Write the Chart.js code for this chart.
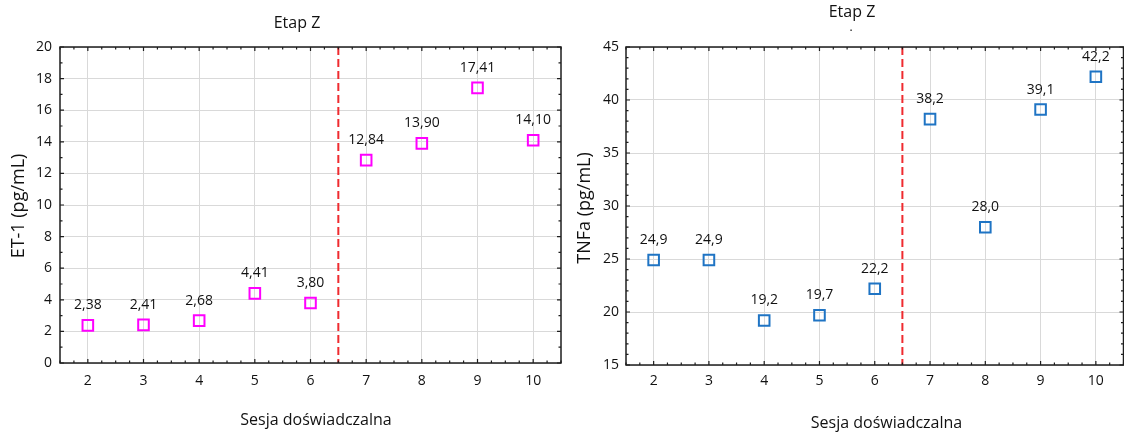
<!DOCTYPE html>
<html lang="pl">
<head>
<meta charset="utf-8">
<title>Etap Z – ET-1 i TNFa</title>
<script src="https://cdn.jsdelivr.net/npm/chart.js@4.4.1/dist/chart.umd.min.js"></script>
<style>
  html, body { margin: 0; padding: 0; background: #fff; }
  #wrap { position: relative; width: 1124px; height: 437px; overflow: hidden; }
  canvas { position: absolute; top: 0; }
  #chartEt { left: 0; }
  /* szersze plotno, nadmiar z prawej jest przyciety przez #wrap */
  #chartTnf { left: 566px; }
</style>
</head>
<body>
<div id="wrap">
  <canvas id="chartEt" width="594" height="437"></canvas>
  <canvas id="chartTnf" width="567" height="437"></canvas>
</div>
<script>
// sesje doswiadczalne i zmierzone stezenia
const sessions = [2, 3, 4, 5, 6, 7, 8, 9, 10];
const et1Values = [2.38, 2.41, 2.68, 4.41, 3.80, 12.84, 13.90, 17.41, 14.10];
const tnfValues = [24.9, 24.9, 19.2, 19.7, 22.2, 38.2, 28.0, 39.1, 42.2];

// podzialki osi
const sessionTicks = [2, 3, 4, 5, 6, 7, 8, 9, 10];
const et1Ticks = [0, 2, 4, 6, 8, 10, 12, 14, 16, 18, 20];
const tnfTicks = [15, 20, 25, 30, 35, 40, 45];

// granica etapu Z (miedzy sesja 6 a 7)
const stageBoundary = 6.5;

const FONT = '"Open Sans", "DejaVu Sans", sans-serif';
const INK = '#111111';

// ramka z kreskami do srodka, linia przerywana, etykiety wartosci i tytuly
const framePlugin = {
  id: 'frame',
  beforeDatasetsDraw(chart, args, o) {
    const { ctx, chartArea: a, scales: { x } } = chart;
    const px = x.getPixelForValue(o.boundary);
    ctx.save();
    ctx.strokeStyle = '#ef2b2f';
    ctx.lineWidth = 2;
    ctx.setLineDash([8, 4]);
    ctx.beginPath();
    ctx.moveTo(px, a.top);
    ctx.lineTo(px, a.bottom);
    ctx.stroke();
    ctx.restore();
  },
  afterDatasetsDraw(chart, args, o) {
    const { ctx, chartArea: a, scales: { x, y } } = chart;
    ctx.save();

    // ramka
    ctx.strokeStyle = '#1e1e1e';
    ctx.lineWidth = 1.5;
    ctx.strokeRect(a.left, a.top, a.right - a.left, a.bottom - a.top);

    // kreski podzialki
    ctx.lineWidth = 1.2;
    ctx.beginPath();
    const n0 = Math.ceil(x.min / o.xMinor - 1e-9), n1 = Math.floor(x.max / o.xMinor + 1e-9);
    for (let n = n0; n <= n1; n++) {
      const v = n * o.xMinor;
      const px = x.getPixelForValue(v);
      const len = Math.abs(v - Math.round(v / o.xMajor) * o.xMajor) < 1e-9 ? 4 : 2.5;
      ctx.moveTo(px, a.bottom); ctx.lineTo(px, a.bottom - len);
      ctx.moveTo(px, a.top); ctx.lineTo(px, a.top + len);
    }
    const m0 = Math.ceil(y.min / o.yMinor - 1e-9), m1 = Math.floor(y.max / o.yMinor + 1e-9);
    for (let m = m0; m <= m1; m++) {
      const v = m * o.yMinor;
      const py = y.getPixelForValue(v);
      const len = Math.abs(v - Math.round(v / o.yMajor) * o.yMajor) < 1e-9 ? 4 : 2.5;
      ctx.moveTo(a.left, py); ctx.lineTo(a.left + len, py);
      ctx.moveTo(a.right, py); ctx.lineTo(a.right - len, py);
    }
    ctx.stroke();

    // etykiety wartosci nad punktami
    ctx.fillStyle = INK;
    ctx.font = '14px ' + FONT;
    ctx.textAlign = 'center';
    ctx.textBaseline = 'middle';
    const ds = chart.data.datasets[0];
    chart.getDatasetMeta(0).data.forEach((pt, i) => {
      const label = ds.data[i].y.toFixed(o.decimals).replace('.', ',');
      ctx.fillText(label, pt.x, pt.y - 20);
    });

    // etykiety osi X
    x.ticks.forEach(t => ctx.fillText(String(t.value), x.getPixelForValue(t.value), o.xLabelY));

    // tytul wykresu
    ctx.font = '16px ' + FONT;
    ctx.fillText(o.title, o.titlePos[0], o.titlePos[1]);
    if (o.titleDot) {
      ctx.font = '12px ' + FONT;
      ctx.fillText('.', o.titleDot[0], o.titleDot[1]);
    }

    // opis osi X
    ctx.font = '16px ' + FONT;
    ctx.fillText(o.xTitle, o.xTitlePos[0], o.xTitlePos[1]);

    // opis osi Y
    ctx.font = '18px ' + FONT;
    ctx.translate(o.yTitlePos[0], o.yTitlePos[1]);
    ctx.rotate(-Math.PI / 2);
    ctx.fillText(o.yTitle, 0, 0);
    ctx.restore();
  }
};

function makeChart(id, values, yTicks, cfg) {
  const points = sessions.map((s, i) => ({ x: s, y: values[i] }));
  return new Chart(document.getElementById(id), {
    type: 'scatter',
    data: {
      datasets: [{
        data: points,
        pointStyle: 'rect',
        pointRadius: 7.5,
        pointHoverRadius: 7.5,
        pointBorderWidth: 2,
        borderColor: cfg.color,
        backgroundColor: 'rgba(0,0,0,0)',
        showLine: false
      }]
    },
    options: {
      responsive: false,
      animation: false,
      devicePixelRatio: 1,
      events: [],
      layout: { padding: cfg.padding },
      plugins: {
        legend: { display: false },
        tooltip: { enabled: false },
        frame: cfg.frame
      },
      scales: {
        x: {
          type: 'linear',
          min: 1.5,
          max: 10.5,
          afterBuildTicks: s => { s.ticks = sessionTicks.map(v => ({ value: v })); },
          afterFit: s => { s.height = cfg.xHeight; },
          grid: { color: '#d9d9d9', lineWidth: 1, drawTicks: false },
          border: { display: false },
          ticks: { display: false }
        },
        y: {
          type: 'linear',
          min: yTicks[0],
          max: yTicks[yTicks.length - 1],
          afterBuildTicks: s => { s.ticks = yTicks.map(v => ({ value: v })); },
          afterFit: s => { s.width = 60; },
          grid: { color: '#d9d9d9', lineWidth: 1, drawTicks: false },
          border: { display: false },
          ticks: { padding: cfg.yPad, color: INK, font: { family: FONT, size: 14 } }
        }
      }
    },
    plugins: [framePlugin]
  });
}

makeChart('chartEt', et1Values, et1Ticks, {
  color: '#ff00ff',
  padding: { left: 0, right: 33, top: 47, bottom: 0 },
  xHeight: 74,
  yPad: 8,
  frame: {
    boundary: stageBoundary,
    xMinor: 0.25, xMajor: 1, yMinor: 1, yMajor: 2,
    decimals: 2,
    xLabelY: 381,
    title: 'Etap Z', titlePos: [297, 23],
    xTitle: 'Sesja doświadczalna', xTitlePos: [316, 420],
    yTitle: 'ET-1 (pg/mL)', yTitlePos: [18.5, 206]
  }
});

makeChart('chartTnf', tnfValues, tnfTicks, {
  color: '#1f74c4',
  padding: { left: 0, right: 1, top: 47, bottom: 0 },
  xHeight: 72,
  yPad: 7,
  frame: {
    boundary: stageBoundary,
    xMinor: 0.25, xMajor: 1, yMinor: 1, yMajor: 5,
    decimals: 1,
    xLabelY: 381,
    title: 'Etap Z', titlePos: [286, 12], titleDot: [285, 28],
    xTitle: 'Sesja doświadczalna', xTitlePos: [320.5, 423],
    yTitle: 'TNFa (pg/mL)', yTitlePos: [18.5, 208]
  }
});
</script>
</body>
</html>
